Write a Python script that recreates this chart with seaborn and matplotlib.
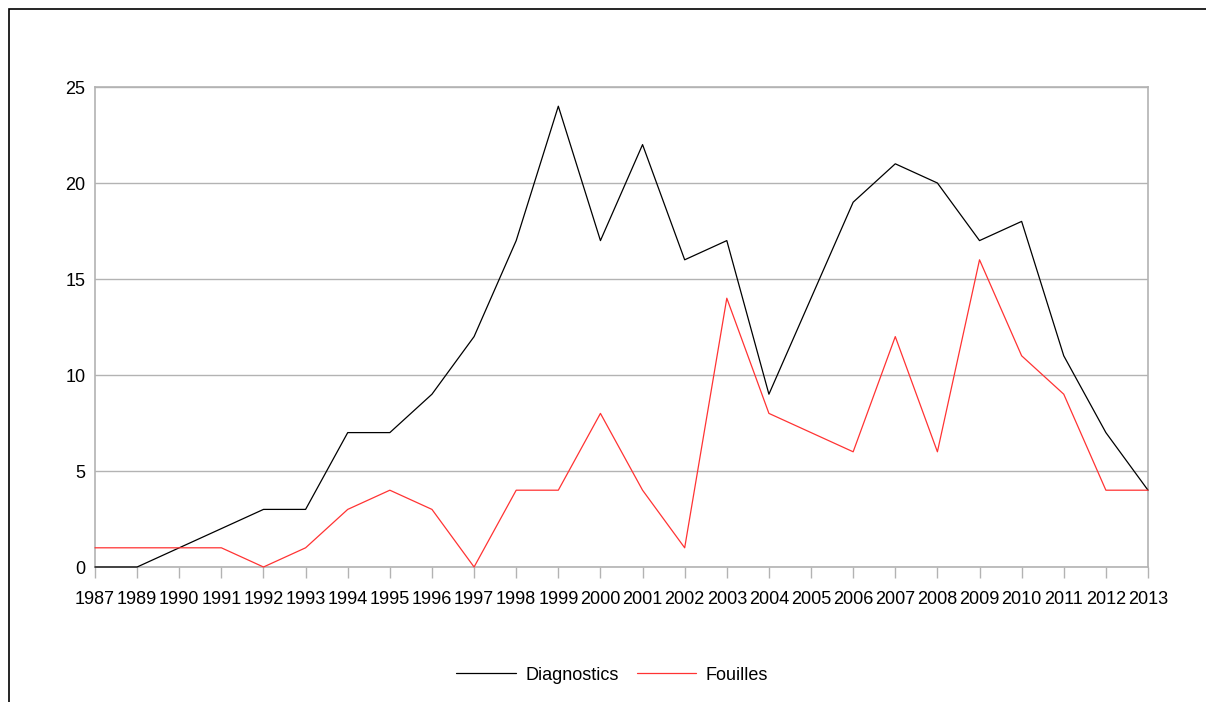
import numpy as np
import pandas as pd
import seaborn as sns
import matplotlib.pyplot as plt
from matplotlib.patches import Rectangle

years = ["1987", "1989", "1990", "1991", "1992", "1993", "1994", "1995", "1996",
         "1997", "1998", "1999", "2000", "2001", "2002", "2003", "2004", "2005",
         "2006", "2007", "2008", "2009", "2010", "2011", "2012", "2013"]
diagnostics = [0, 0, 1, 2, 3, 3, 7, 7, 9, 12, 17, 24, 17, 22, 16, 17, 9, 14,
               19, 21, 20, 17, 18, 11, 7, 4]
fouilles = [1, 1, 1, 1, 0, 1, 3, 4, 3, 0, 4, 4, 8, 4, 1, 14, 8, 7,
            6, 12, 6, 16, 11, 9, 4, 4]

df = pd.DataFrame({
    "idx": list(range(len(years))) * 2,
    "value": diagnostics + fouilles,
    "serie": ["Diagnostics"] * len(years) + ["Fouilles"] * len(years),
})

sns.set_style("white")
plt.rcParams["font.family"] = ["Liberation Sans", "DejaVu Sans"]
plt.rcParams["text.color"] = "black"
grey = "#b3b3b3"

fig = plt.figure(figsize=(12.06, 7.02), dpi=100)
ax = fig.add_axes([95 / 1206, 1 - 567 / 702, (1148 - 95) / 1206, (567 - 87) / 702])

sns.lineplot(data=df, x="idx", y="value", hue="serie",
             palette={"Diagnostics": "#000000", "Fouilles": "#ff3333"},
             linewidth=0.9, ax=ax)
for ln in ax.lines:
    ln.set_zorder(5)
    ln.set_clip_on(False)

ax.set_xlim(0, len(years) - 1)
ax.set_ylim(0, 25)
ax.set_xticks(range(len(years)))
ax.set_xticklabels(years)
ax.set_yticks(range(0, 26, 5))
ax.set_xlabel("")
ax.set_ylabel("")
ax.yaxis.grid(True, color=grey, linewidth=1)
ax.set_axisbelow(True)
for s in ax.spines.values():
    s.set_color(grey)
    s.set_linewidth(1.2)
    s.set_zorder(1)
ax.tick_params(axis="x", direction="out", length=8, color=grey, width=1,
               labelsize=13, pad=9, labelcolor="black")
ax.tick_params(axis="y", length=0, labelsize=13, pad=7, labelcolor="black")
ax.tick_params(bottom=True, left=False)

leg = ax.legend(loc="center", bbox_to_anchor=(612 / 1206, 1 - 675 / 702),
                bbox_transform=fig.transFigure, ncol=2, frameon=False,
                fontsize=13, handlelength=3.3, columnspacing=1.0, handletextpad=0.5)
for t in leg.get_texts():
    t.set_color("black")

fig.patches.append(Rectangle((9 / 1206, -0.1), 1.2, 1 - 9 / 702 + 0.1,
                             transform=fig.transFigure, fill=False,
                             edgecolor="black", linewidth=1.2, zorder=0))

fig.savefig("out.png", dpi=100)
